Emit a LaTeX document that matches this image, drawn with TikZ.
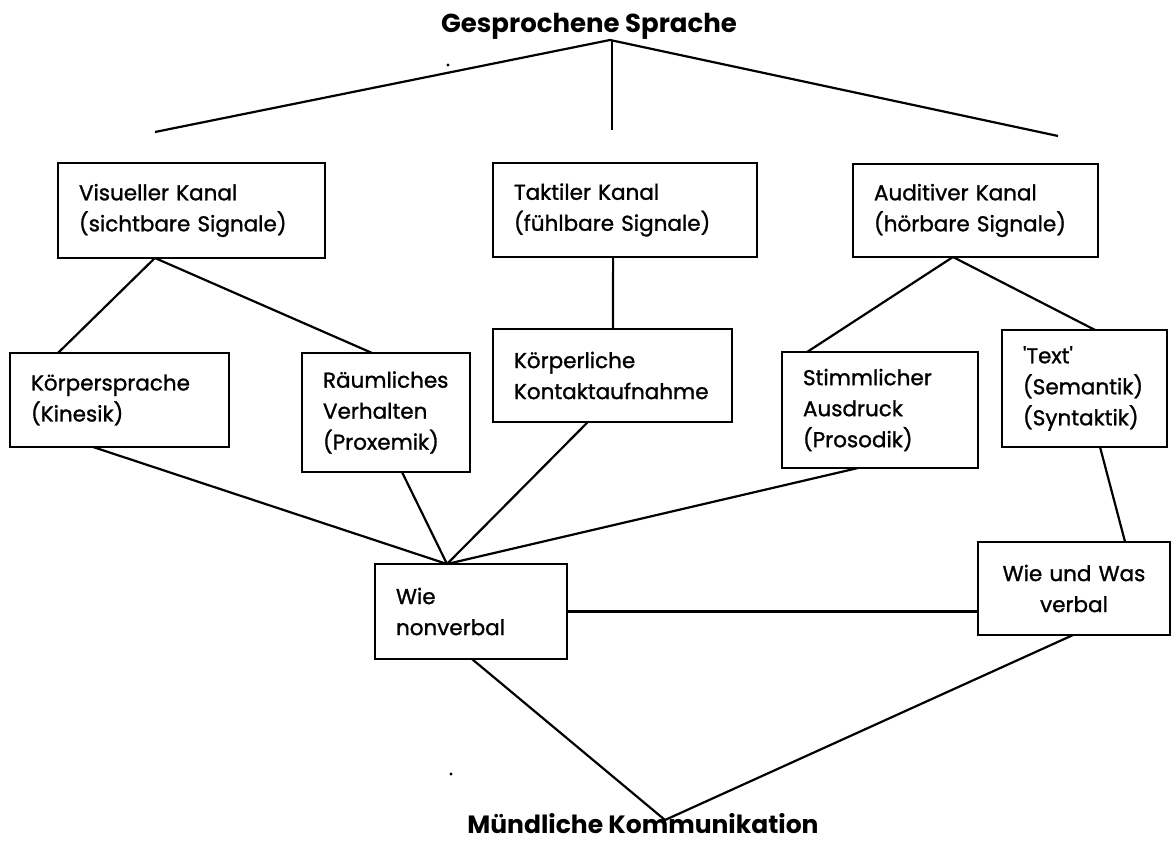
\documentclass[tikz,border=0pt]{standalone}
\usepackage{fontspec}
\setmainfont{Poppins}
\newfontfamily\boxfont{Poppins}[RawFeature={embolden=1.2}]
\usetikzlibrary{calc}
\tikzset{
  box/.style={draw, line width=2.2pt, rectangle, anchor=north west, inner xsep=21pt, inner ysep=0pt, outer sep=0pt, align=left, font=\boxfont\fontsize{21.5}{31}\selectfont},
  conn/.style={line width=2.2pt},
  title/.style={font=\bfseries, inner sep=0pt, anchor=base}
}
\begin{document}
\begin{tikzpicture}[x=1pt,y=-1pt]
\useasboundingbox (0,0) rectangle (1174,842);
% titles
\node[title, font=\fontsize{26}{30}\selectfont\bfseries] (top) at (589,33) {Gesprochene Sprache};
\node[title, font=\fontsize{25}{30}\selectfont\bfseries] (bottom) at (643,833) {Mündliche Kommunikation};
% boxes
\node[box, text width=225pt, minimum height=95pt] (vis) at (58,163) {Visueller Kanal\\(sichtbare Signale)};
\node[box, text width=222pt, minimum height=94pt] (tak) at (493,163) {Taktiler Kanal\\(fühlbare Signale)};
\node[box, text width=203pt, minimum height=93pt] (aud) at (853,164) {Auditiver Kanal\\(hörbare Signale)};
\node[box, text width=177pt, minimum height=94pt] (koe) at (10,353) {Körpersprache\\(Kinesik)};
\node[box, text width=126pt, minimum height=119pt] (rau) at (302,353) {Räumliches\\Verhalten\\(Proxemik)};
\node[box, text width=197pt, minimum height=93pt] (kon) at (493,329) {Körperliche\\Kontaktaufnahme};
\node[box, text width=154pt, minimum height=116pt] (sti) at (782,352) {Stimmlicher\\Ausdruck\\(Prosodik)};
\node[box, text width=123pt, minimum height=117pt] (txt) at (1002,330) {'Text'\\(Semantik)\\(Syntaktik)};
\node[box, text width=150pt, minimum height=95pt] (wie) at (375,564) {Wie\\nonverbal};
\node[box, text width=150pt, minimum height=93pt, align=center] (was) at (978,542) {Wie und Was\\verbal};
% top fan
\coordinate (apex) at (610,40);
\coordinate (fl) at (155,132);
\coordinate (fm) at (612,130);
\coordinate (fr) at (1058,136);
\draw[conn] (fl) -- (apex) -- (fr);
\draw[conn] (612,40) -- (fm);
% channel connectors
\draw[conn] ($(vis.south west)!0.363!(vis.south east)$) -- ($(koe.north west)!0.219!(koe.north east)$);
\draw[conn] ($(vis.south west)!0.363!(vis.south east)$) -- ($(rau.north west)!0.417!(rau.north east)$);
\draw[conn] ($(tak.south west)!0.455!(tak.south east)$) -- ($(kon.north west)!0.502!(kon.north east)$);
\draw[conn] ($(aud.south west)!0.408!(aud.south east)$) -- ($(sti.north west)!0.128!(sti.north east)$);
\draw[conn] ($(aud.south west)!0.408!(aud.south east)$) -- ($(txt.north west)!0.564!(txt.north east)$);
% to Wie nonverbal
\coordinate (wtop) at ($(wie.north west)!0.375!(wie.north east)$);
\draw[conn] ($(koe.south west)!0.379!(koe.south east)$) -- (wtop);
\draw[conn] ($(rau.south west)!0.595!(rau.south east)$) -- (wtop);
\draw[conn] ($(kon.south west)!0.397!(kon.south east)$) -- (wtop);
\draw[conn] ($(sti.south west)!0.388!(sti.south east)$) -- (wtop);
% text to verbal
\draw[conn] ($(txt.south west)!0.594!(txt.south east)$) -- ($(was.north west)!0.766!(was.north east)$);
\draw[conn] (wie.east) -- (wie.east -| was.west);
% bottom
\coordinate (bapex) at (665,820);
\draw[conn] ($(wie.south west)!0.505!(wie.south east)$) -- (bapex) -- ($(was.south west)!0.495!(was.south east)$);
% specks
\fill (448,65) circle (1.6);
\fill (451,774) circle (1.6);
\end{tikzpicture}
\end{document}
